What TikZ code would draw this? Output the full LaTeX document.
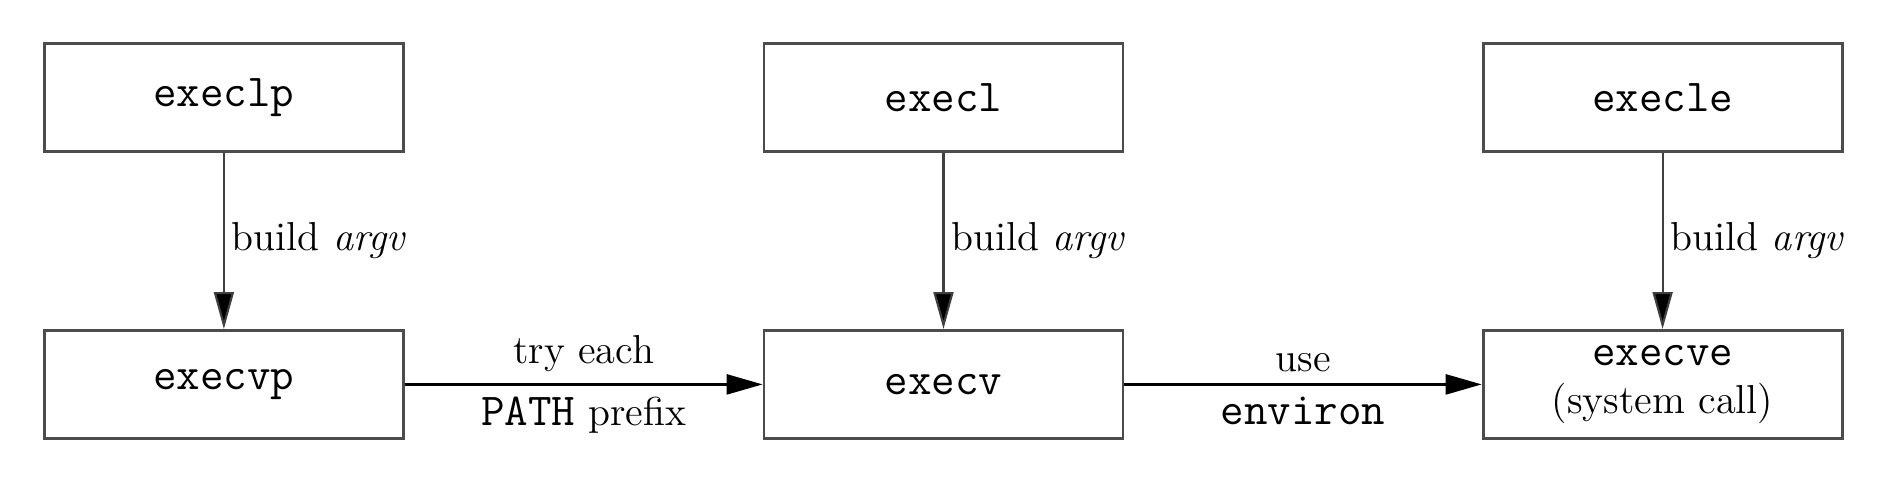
\documentclass[tikz,border=0pt]{standalone}
\usepackage{fontspec}
\setmonofont{Latin Modern Mono}[Scale=1.13]
\usetikzlibrary{arrows.meta}
\tikzset{
  fnbox/.style={draw=black!70, line width=0.8pt, minimum width=3.59cm, minimum height=1.08cm,
    inner sep=0pt, align=center, font=\fontsize{11.5}{13.7}\selectfont},
  downarr/.style={draw=black!75, line width=0.6pt, -{Triangle[length=3.7mm,width=2mm,fill=black]}},
  sidearr/.style={draw=black, line width=0.7pt, -{Triangle[length=3.6mm,width=2mm]}},
  lbl/.style={font=\fontsize{11.5}{13.7}\selectfont}
}
\begin{document}
\begin{tikzpicture}
\useasboundingbox (0,0) rectangle (18.98,4.84);
\node[fnbox] (execlp) at (2.239,3.865) {\texttt{execlp}};
\node[fnbox] (execl) at (9.435,3.865) {\texttt{execl}};
\node[fnbox] (execle) at (16.626,3.865) {\texttt{execle}};
\node[fnbox] (execvp) at (2.239,0.996) {\texttt{execvp}};
\node[fnbox] (execv) at (9.435,0.996) {\texttt{execv}};
\node[fnbox] (execve) at (16.626,0.996) {\texttt{execve}\\(system call)};
\draw[downarr] (execlp) -- (execvp) node[lbl, midway, right, inner sep=2pt] {build \textit{argv}};
\draw[downarr] (execl) -- (execv) node[lbl, midway, right, inner sep=2pt] {build \textit{argv}};
\draw[downarr] (execle) -- (execve) node[lbl, midway, right, inner sep=2pt] {build \textit{argv}};
\draw[sidearr] (execvp) -- (execv)
  node[lbl, midway, above] {try each}
  node[lbl, midway, below] {\texttt{PATH} prefix};
\draw[sidearr] (execv) -- (execve)
  node[lbl, midway, above] {use}
  node[lbl, midway, below] {\texttt{environ}};
\end{tikzpicture}
\end{document}
